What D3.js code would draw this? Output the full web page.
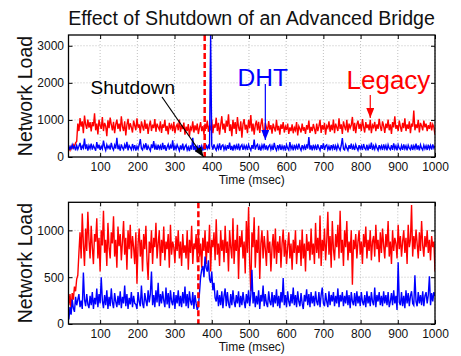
<!DOCTYPE html>
<html>
<head>
<meta charset="utf-8">
<script src="https://cdn.jsdelivr.net/npm/d3@7"></script>
<style>
  body { margin: 0; background: #fff; }
  svg { display: block; font-family: 'Liberation Sans', Arial, sans-serif; }
</style>
</head>
<body>
<svg id="chart" width="461" height="356"></svg>
<script>
// time axis: one sample every 3 msec from 16 to 1000
const T0 = 16;
const DT = 3;
const xTicks = [100, 200, 300, 400, 500, 600, 700, 800, 900, 1000];
const topYTicks = [0, 1000, 2000, 3000];
const bottomYTicks = [0, 500, 1000];

// upper panel
const topLegacy = [
  230, 180, 290, 240, 330, 270, 380, 420, 900, 700, 1050, 820, 960, 640, 1120, 880, 760, 1010, 790, 940,
  690, 940, 830, 1180, 720, 900, 610, 1000, 850, 760, 1080, 700, 920, 830, 560, 990, 780, 1060, 870, 720,
  950, 640, 880, 1010, 760, 900, 690, 1100, 820, 700, 960, 580, 870, 1030, 740, 910, 800, 660, 980, 850,
  720, 1040, 790, 880, 640, 960, 830, 710, 1000, 760, 900, 620, 850, 980, 700, 870, 780, 1020, 680, 900,
  810, 740, 960, 650, 880, 790, 1000, 700, 840, 610, 920, 780, 860, 700, 950, 640, 820, 880, 720, 1010,
  680, 860, 750, 930, 600, 820, 700, 890, 560, 800, 740, 960, 660, 850, 720, 900, 620, 790, 940, 700,
  830, 610, 900, 760, 980, 680, 850, 720, 1000, 640, 880, 790, 1060, 700, 920, 600, 860, 1100, 740, 900,
  650, 980, 820, 1150, 700, 880, 560, 1000, 760, 940, 620, 1080, 800, 700, 960, 520, 890, 1020, 740, 870,
  640, 1000, 780, 1130, 690, 900, 600, 860, 980, 720, 950, 650, 880, 1040, 760, 560, 920, 800, 700, 970,
  740, 860, 630, 900, 780, 690, 1000, 720, 840, 600, 880, 760, 940, 660, 820, 730, 900, 620, 800, 700,
  880, 640, 790, 720, 940, 580, 830, 760, 660, 900, 710, 800, 620, 860, 740, 980, 650, 810, 700, 890,
  760, 620, 900, 700, 830, 1000, 650, 860, 740, 920, 600, 840, 780, 960, 680, 870, 720, 1010, 640, 900,
  800, 700, 1040, 760, 880, 620, 960, 820, 720, 1000, 660, 900, 780, 860, 1080, 700, 920, 640, 880, 980,
  760, 900, 700, 1020, 820, 660, 940, 780, 880, 720, 1000, 640, 860, 800, 950, 700, 880, 760, 1030, 820,
  700, 960, 840, 650, 900, 780, 1010, 720, 880, 620, 940, 800, 1100, 760, 860, 700, 980, 820, 680, 920,
  780, 1040, 700, 880, 760, 960, 640, 900, 820, 1250, 720, 880, 780, 1000, 660, 920, 840, 720, 980, 800,
  900, 700, 860, 760, 940, 720, 880, 800, 600
];
const topDHT = [
  190, 280, 220, 330, 240, 300, 180, 310, 210, 290, 380, 190, 300, 240, 500, 210, 340, 170, 310, 230,
  360, 200, 310, 250, 170, 400, 230, 330, 190, 290, 220, 440, 270, 180, 330, 240, 300, 200, 380, 250,
  190, 320, 230, 520, 210, 300, 170, 340, 250, 200, 330, 230, 410, 180, 310, 260, 200, 350, 220, 320,
  170, 290, 210, 330, 480, 230, 190, 320, 250, 370, 190, 300, 230, 170, 340, 240, 430, 200, 310, 190,
  330, 220, 300, 190, 380, 210, 320, 170, 270, 340, 200, 310, 230, 450, 180, 300, 210, 330, 250, 170,
  310, 200, 360, 180, 280, 330, 190, 270, 160, 310, 200, 520, 190, 300, 150, 280, 180, 320, 200, 300,
  170, 290, 190, 330, 220, 300, 210, 3290, 320, 200, 340, 240, 180, 310, 220, 370, 190, 300, 330, 200,
  290, 180, 320, 220, 390, 190, 300, 170, 330, 220, 310, 200, 360, 180, 290, 330, 190, 310, 220, 300,
  190, 330, 240, 180, 320, 220, 470, 200, 300, 340, 190, 290, 170, 320, 230, 360, 200, 310, 180, 290,
  330, 200, 300, 190, 380, 240, 180, 320, 220, 340, 190, 300, 210, 310, 170, 330, 240, 190, 400, 220,
  300, 180, 330, 220, 310, 200, 360, 240, 180, 320, 220, 300, 190, 340, 230, 540, 200, 310, 180, 330,
  220, 300, 190, 340, 240, 180, 320, 220, 370, 190, 300, 330, 200, 290, 180, 320, 220, 340, 190, 300,
  200, 330, 240, 180, 310, 510, 220, 190, 330, 240, 180, 320, 220, 360, 200, 300, 190, 330, 240, 180,
  320, 220, 300, 190, 350, 240, 200, 330, 180, 310, 220, 390, 190, 300, 210, 330, 240, 180, 320, 220,
  300, 190, 340, 220, 310, 180, 330, 240, 200, 320, 190, 370, 220, 300, 180, 330, 240, 200, 310, 190,
  340, 220, 300, 180, 320, 240, 200, 330, 190, 300, 220, 360, 200, 310, 180, 330, 240, 190, 320, 220,
  300, 190, 330, 220, 310, 200, 340, 240, 300
];

// lower panel
const bottomLegacy = [
  200, 320, 150, 330, 260, 400, 350, 480, 520, 760, 980, 700, 1180, 860, 620, 1020, 780, 1200, 900, 700,
  1050, 820, 640, 960, 880, 1130, 700, 920, 560, 1000, 840, 1210, 760, 900, 620, 1080, 820, 700, 980, 860,
  1150, 720, 900, 600, 1040, 830, 960, 680, 880, 1100, 740, 920, 580, 1000, 800, 1060, 700, 940, 820, 640,
  980, 430, 860, 1020, 720, 900, 560, 960, 800, 1050, 680, 470, 880, 760, 1000, 640, 920, 820, 1080, 700,
  860, 1000, 620, 900, 760, 1040, 680, 880, 800, 960, 600, 1060, 740, 880, 820, 650, 940, 780, 1000, 700,
  880, 620, 960, 760, 840, 700, 1000, 580, 900, 760, 1050, 640, 860, 800, 960, 660, 1000, 720, 860, 600,
  920, 780, 1000, 640, 880, 760, 1060, 560, 900, 820, 980, 680, 1120, 740, 860, 620, 1000, 780, 900, 660,
  1050, 760, 880, 560, 1000, 820, 700, 1130, 640, 900, 780, 1060, 480, 940, 820, 1000, 700, 880, 540, 1100,
  760, 1250, 650, 350, 980, 820, 1140, 600, 900, 760, 1050, 480, 860, 1000, 700, 940, 800, 620, 1000, 760,
  880, 560, 820, 960, 700, 1020, 640, 880, 760, 940, 600, 860, 1010, 720, 900, 640, 820, 980, 700, 860,
  580, 900, 760, 1000, 640, 840, 760, 900, 620, 1010, 700, 860, 560, 960, 780, 880, 680, 1020, 740, 860,
  640, 1080, 760, 920, 700, 1160, 620, 900, 780, 1020, 680, 880, 1200, 740, 940, 600, 1100, 800, 680, 960,
  820, 1060, 700, 1210, 760, 900, 620, 1000, 820, 1100, 680, 880, 760, 1000, 420, 900, 800, 960, 700, 880,
  1000, 740, 880, 640, 960, 820, 1040, 700, 900, 780, 1000, 680, 880, 940, 720, 1060, 800, 900, 660, 980,
  760, 1020, 840, 700, 960, 820, 1100, 720, 880, 640, 1000, 780, 920, 860, 700, 1060, 800, 940, 720, 880,
  1000, 760, 920, 640, 1060, 820, 900, 1270, 720, 940, 800, 1010, 860, 700, 980, 780, 1100, 840, 720, 940,
  820, 1000, 760, 900, 680, 940, 820, 880, 560
];
const bottomDHT = [
  50, 180, 100, 260, 170, 130, 290, 200, 260, 320, 180, 250, 160, 550, 260, 190, 320, 210, 170, 300,
  200, 340, 160, 280, 210, 380, 180, 320, 220, 500, 250, 170, 310, 200, 360, 160, 290, 190, 380, 230,
  170, 330, 240, 180, 300, 200, 350, 170, 290, 220, 410, 190, 320, 160, 280, 210, 340, 180, 300, 220,
  210, 160, 340, 240, 190, 410, 220, 170, 330, 250, 190, 360, 230, 320, 560, 200, 310, 180, 360, 230,
  440, 190, 320, 220, 350, 250, 180, 390, 210, 330, 170, 360, 240, 200, 340, 160, 310, 220, 360, 190,
  300, 180, 340, 220, 400, 190, 320, 170, 350, 240, 200, 340, 160, 310, 220, 150, 190, 330, 500, 580,
  620, 500, 720, 600, 560, 680, 480, 440, 560, 360, 440, 280, 240, 360, 190, 310, 200, 350, 170, 300,
  380, 190, 340, 220, 170, 320, 200, 360, 240, 180, 310, 220, 350, 180, 300, 200, 340, 240, 170, 320,
  220, 360, 190, 310, 580, 220, 340, 180, 300, 210, 360, 160, 310, 240, 410, 190, 320, 220, 180, 350,
  240, 200, 340, 180, 310, 220, 370, 190, 300, 170, 340, 230, 490, 200, 310, 180, 350, 240, 190, 320,
  220, 390, 200, 310, 180, 350, 240, 190, 330, 220, 160, 310, 240, 370, 200, 320, 180, 340, 220, 300,
  190, 350, 240, 200, 340, 180, 310, 390, 220, 190, 330, 240, 180, 350, 200, 310, 240, 340, 190, 300,
  220, 380, 180, 310, 240, 340, 190, 300, 220, 360, 200, 310, 170, 340, 240, 200, 330, 190, 350, 220,
  300, 190, 340, 240, 200, 310, 180, 350, 220, 300, 190, 340, 240, 200, 390, 180, 310, 240, 340, 200,
  300, 190, 350, 220, 310, 200, 340, 180, 240, 330, 200, 360, 220, 300, 150, 660, 230, 200, 340, 190,
  300, 170, 360, 220, 330, 190, 300, 350, 220, 200, 520, 240, 190, 340, 220, 310, 200, 350, 190, 300,
  340, 220, 310, 510, 200, 330, 240, 340, 300
];

const RED = '#ff0000';
const BLUE = '#0000ff';

const svg = d3.select('#chart');

// arrow heads
const defs = svg.append('defs');
[['black', '#000'], ['blue', BLUE], ['red', RED]].forEach(([id, c]) => {
  defs.append('marker')
    .attr('id', `arrow-${id}`)
    .attr('orient', 'auto')
    .attr('markerUnits', 'userSpaceOnUse')
    .attr('markerWidth', 10)
    .attr('markerHeight', 8)
    .attr('refX', 10)
    .attr('refY', 4)
    .append('path')
    .attr('d', 'M0,0 L10,4 L0,8 Z')
    .attr('fill', c);
});

function drawPanel(cfg) {
  const x = d3.scaleLinear().domain([15, 1000]).range([cfg.left, cfg.right]);
  const y = d3.scaleLinear().domain([0, cfg.yMax]).range([cfg.bottom, cfg.top]);
  const g = svg.append('g').attr('class', cfg.id);

  g.append('clipPath').attr('id', `clip-${cfg.id}`)
    .append('rect')
    .attr('x', cfg.left).attr('y', cfg.top)
    .attr('width', cfg.right - cfg.left).attr('height', cfg.bottom - cfg.top);

  // dotted grid
  const grid = g.append('g').attr('class', 'grid')
    .attr('stroke', '#b0b0b0').attr('stroke-width', 0.8).attr('stroke-dasharray', '1,2');
  grid.selectAll('line.gx').data(xTicks).enter().append('line')
    .attr('x1', (d) => x(d)).attr('x2', (d) => x(d))
    .attr('y1', cfg.top).attr('y2', cfg.bottom);
  grid.selectAll('line.gy').data(cfg.yTicks.filter((d) => d > 0)).enter().append('line')
    .attr('x1', cfg.left).attr('x2', cfg.right)
    .attr('y1', (d) => y(d)).attr('y2', (d) => y(d));

  // series
  const line = d3.line().x((d, i) => x(T0 + i * DT)).y((d) => y(d));
  const plot = g.append('g').attr('clip-path', `url(#clip-${cfg.id})`);
  cfg.series.forEach((s) => {
    plot.append('path')
      .datum(s.values)
      .attr('d', line)
      .attr('fill', 'none')
      .attr('stroke', s.color)
      .attr('stroke-width', 1.4);
  });

  // shutdown marker
  plot.append('line')
    .attr('x1', x(cfg.shutdown)).attr('x2', x(cfg.shutdown))
    .attr('y1', cfg.top).attr('y2', cfg.bottom)
    .attr('stroke', RED).attr('stroke-width', 2.5).attr('stroke-dasharray', '6,3');

  // axes, ticks pointing inwards on all four sides
  const fmt = d3.format('d');
  const bottomAxis = d3.axisBottom(x).tickValues(xTicks).tickFormat(fmt).tickSizeInner(-4).tickSizeOuter(0).tickPadding(5.5);
  const topAxis = d3.axisTop(x).tickValues(xTicks).tickSizeInner(-4).tickSizeOuter(0).tickFormat('');
  const leftAxis = d3.axisLeft(y).tickValues(cfg.yTicks).tickFormat(fmt).tickSizeInner(-4).tickSizeOuter(0).tickPadding(4.5);
  const rightAxis = d3.axisRight(y).tickValues(cfg.yTicks).tickSizeInner(-4).tickSizeOuter(0).tickFormat('');

  const styleAxis = (sel) => {
    sel.select('.domain').remove();
    sel.selectAll('line').attr('stroke', '#000').attr('stroke-width', 1);
    sel.selectAll('text').attr('fill', '#111').style('font-size', '12px')
      .style('font-family', "'Liberation Sans', Arial, sans-serif");
  };
  g.append('g').attr('transform', `translate(0,${cfg.bottom})`).call(bottomAxis).call(styleAxis);
  g.append('g').attr('transform', `translate(0,${cfg.top})`).call(topAxis).call(styleAxis);
  g.append('g').attr('transform', `translate(${cfg.left},0)`).call(leftAxis).call(styleAxis);
  g.append('g').attr('transform', `translate(${cfg.right},0)`).call(rightAxis).call(styleAxis);

  g.append('rect')
    .attr('x', cfg.left).attr('y', cfg.top)
    .attr('width', cfg.right - cfg.left).attr('height', cfg.bottom - cfg.top)
    .attr('fill', 'none').attr('stroke', '#000').attr('stroke-width', 1.3);

  // axis labels
  g.append('text')
    .attr('x', (cfg.left + cfg.right) / 2).attr('y', cfg.bottom + 27)
    .attr('text-anchor', 'middle').style('font-size', '12px').attr('fill', '#111')
    .text('Time (msec)');
  g.append('text')
    .attr('transform', `translate(32,${(cfg.top + cfg.bottom) / 2}) rotate(-90)`)
    .attr('text-anchor', 'middle').style('font-size', '19.5px').attr('fill', '#111')
    .text('Network Load');

  return { x, y, g };
}

const topPanel = drawPanel({
  id: 'top', left: 68.5, right: 435, top: 35, bottom: 157, yMax: 3290,
  yTicks: topYTicks, shutdown: 381,
  series: [{ values: topLegacy, color: RED }, { values: topDHT, color: BLUE }],
});

drawPanel({
  id: 'bottom', left: 68.5, right: 435, top: 202.3, bottom: 324, yMax: 1300,
  yTicks: bottomYTicks, shutdown: 364,
  series: [{ values: bottomLegacy, color: RED }, { values: bottomDHT, color: BLUE }],
});

// title
svg.append('text')
  .attr('x', 251.5).attr('y', 25)
  .attr('text-anchor', 'middle').style('font-size', '19.6px').attr('fill', '#111')
  .text('Effect of Shutdown of an Advanced Bridge');

// annotations on the upper panel
const ann = svg.append('g').attr('class', 'annotations');
ann.append('text').attr('x', 90.5).attr('y', 94).style('font-size', '19px').attr('fill', '#000')
  .text('Shutdown');
ann.append('line')
  .attr('x1', 162).attr('y1', 97).attr('x2', topPanel.x(378)).attr('y2', 157)
  .attr('stroke', '#000').attr('stroke-width', 1.2).attr('marker-end', 'url(#arrow-black)');

ann.append('text').attr('x', 237.5).attr('y', 86).style('font-size', '24.5px').attr('fill', BLUE)
  .text('DHT');
ann.append('line')
  .attr('x1', topPanel.x(544)).attr('y1', 84).attr('x2', topPanel.x(544)).attr('y2', 140)
  .attr('stroke', BLUE).attr('stroke-width', 1.2).attr('marker-end', 'url(#arrow-blue)');

ann.append('text').attr('x', 346.5).attr('y', 89).style('font-size', '26px').attr('fill', RED)
  .text('Legacy');
ann.append('line')
  .attr('x1', topPanel.x(826)).attr('y1', 95).attr('x2', topPanel.x(826)).attr('y2', 118)
  .attr('stroke', RED).attr('stroke-width', 1.2).attr('marker-end', 'url(#arrow-red)');
</script>
</body>
</html>
